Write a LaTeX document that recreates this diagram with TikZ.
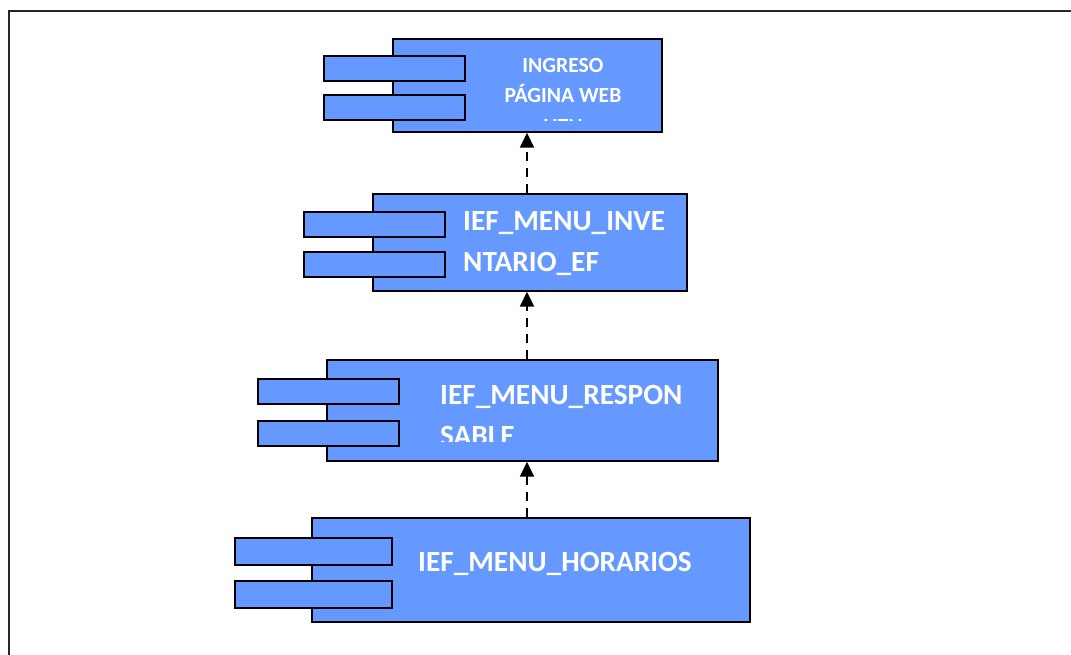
\documentclass[tikz,border=0pt]{standalone}
\usepackage{fontspec}
\setmainfont{Carlito}
\usetikzlibrary{arrows.meta}
\definecolor{compblue}{HTML}{6699FF}
\tikzset{
  body/.style={draw=black, fill=compblue, line width=1.7pt, inner sep=0pt,
    anchor=north west, rectangle},
  tab/.style={draw=black, fill=compblue, line width=1.7pt, inner sep=0pt,
    anchor=north west, rectangle, minimum width=141pt, minimum height=25pt},
  smalllabel/.style={text=white, font=\fontsize{21.6}{26}\selectfont\bfseries,
    inner sep=0pt, anchor=base},
  biglabel/.style={text=white, font=\fontsize{29.3}{35}\selectfont\bfseries,
    inner sep=0pt, anchor=base west},
  dep/.style={line width=1.8pt, dash pattern=on 9pt off 7pt,
    -{Triangle[length=15pt, width=14pt]}},
}
\begin{document}
\begin{tikzpicture}[x=1pt, y=-1pt]
\useasboundingbox (0,0) rectangle (1071,655);
% outer frame
\draw[line width=2pt, draw=black!85] (9,11) rectangle (1090,680);

% component 1
\node[body, minimum width=269pt, minimum height=93pt] (c1) at (392,38) {};
\node[tab] (c1t1) at (323,55) {};
\node[tab] (c1t2) at (323,94) {};
\begin{scope}
  \clip (392,38) rectangle (661,121);
  \node[smalllabel] (l1a) at (563,73) {INGRESO};
  \node[smalllabel] (l1b) at (563,103) {PÁGINA WEB};
  \node[smalllabel] (l1c) at (563,134) {UTN};
\end{scope}

% component 2
\node[body, minimum width=314pt, minimum height=97pt] (c2) at (372,193) {};
\node[tab] (c2t1) at (303,211) {};
\node[tab] (c2t2) at (303,251) {};
\node[biglabel] (l2a) at (463,231) {IEF\_MENU\_INVE};
\node[biglabel] (l2b) at (463,272) {NTARIO\_EF};

% component 3
\node[body, minimum width=391pt, minimum height=101pt] (c3) at (326,359) {};
\node[tab] (c3t1) at (257,378) {};
\node[tab] (c3t2) at (257,420) {};
\begin{scope}
  \clip (326,359) rectangle (717,441);
  \node[biglabel] (l3a) at (440,404) {IEF\_MENU\_RESPON};
  \node[biglabel] (l3b) at (440,445) {SABLE};
\end{scope}

% component 4
\node[body, minimum width=438pt, minimum height=104pt] (c4) at (311,517) {};
\node[tab, minimum width=157pt, minimum height=27pt] (c4t1) at (234,537) {};
\node[tab, minimum width=157pt, minimum height=27pt] (c4t2) at (234,580) {};
\node[biglabel] (l4a) at (418,571) {IEF\_MENU\_HORARIOS};

% dependencies
\coordinate (ax) at (527,0);
\draw[dep] (c2.north -| ax) -- (c1.south -| ax);
\draw[dep] (c3.north -| ax) -- (c2.south -| ax);
\draw[dep] (c4.north -| ax) -- (c3.south -| ax);
\end{tikzpicture}
\end{document}
